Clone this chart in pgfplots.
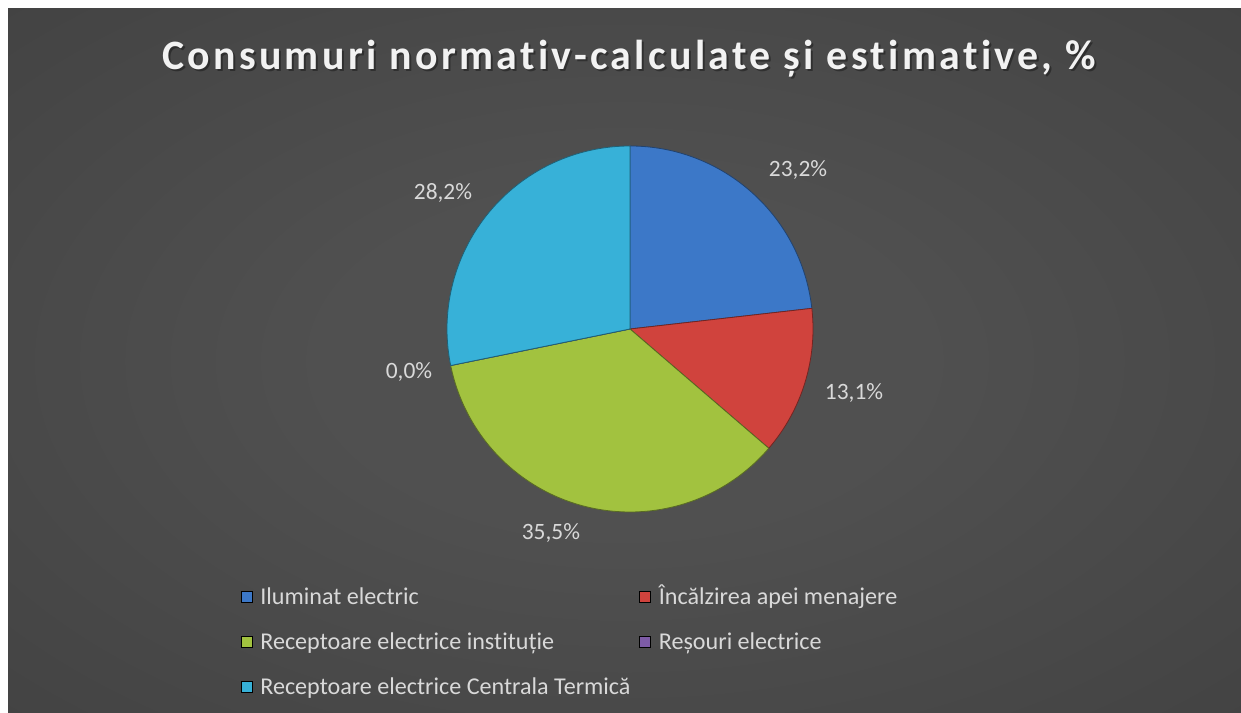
\documentclass[border=0pt]{standalone}
\usepackage{pgfplots}
\pgfplotsset{compat=1.18}
\usepackage{pgfplotstable}
\usepackage{fontspec}
\setmainfont{Carlito}[Ligatures=NoCommon]
\newfontfamily\titlefont{Carlito}[LetterSpace=8,Ligatures=NoCommon]
\definecolor{pie0}{HTML}{3C78C8}
\definecolor{pie1}{HTML}{D0433D}
\definecolor{pie2}{HTML}{A2C23F}
\definecolor{pie3}{HTML}{7D5BA6}
\definecolor{pie4}{HTML}{37B1D8}
\definecolor{bgin}{HTML}{505050}
\definecolor{bgmid}{HTML}{3E3E3E}
\definecolor{bgout}{HTML}{262626}
\definecolor{labelgray}{HTML}{D9D9D9}
\pgfdeclareradialshading{bgshade}{\pgfpoint{0bp}{0bp}}{color(0bp)=(bgin); color(12bp)=(bgin); color(45bp)=(bgmid); color(71bp)=(bgout)}
\newcommand\labelfont{\fontsize{23.5}{28}\selectfont}
\newcommand\legendfont{\fontsize{24.2}{29}\selectfont}

% value, label x, label y (axis units, pie radius = 1)
\pgfplotstableread{
value  lx      ly
23.2   0.918   0.831
13.1   1.224  -0.388
35.5  -0.432  -1.153
0.0   -1.208  -0.268
28.2  -1.022   0.705
}\piedata

\begin{document}
\begin{tikzpicture}[x=1bp,y=1bp]
\fill[white] (0,0) rectangle (1241,713);
\shade[shading=bgshade] (8,0) rectangle (1241,704);
% title
\node[anchor=base, text=black, opacity=0.35, font=\titlefont\bfseries\fontsize{42}{48}\selectfont] at (631,641) {Consumuri normativ-calculate și estimative, \%};
\node[anchor=base, text=white!95!black, font=\titlefont\bfseries\fontsize{42}{48}\selectfont] at (629,643) {Consumuri normativ-calculate și estimative, \%};
\begin{axis}[
  at={(630bp,384bp)}, anchor=center,
  x=183bp, y=183bp,
  xmin=-1, xmax=1, ymin=-1, ymax=1,
  hide axis, clip=false,
  legend image code/.code={\fill[#1] (0bp,2bp) rectangle (11bp,13bp);},
  legend style={draw=none, fill=none, inner sep=0pt, outer sep=0pt,
    text=labelgray, font=\legendfont,
    at={(axis cs:-2.126,-1.412)}, anchor=north west,
    cells={anchor=base west},
    nodes={inner sep=0pt, text height=17bp, text depth=6bp},
    row sep=22bp,
    /tikz/every odd column/.append style={column sep=8bp},
    /tikz/every even column/.append style={column sep=9bp}},
  legend columns=2,
]
\def\startang{90}
\pgfplotsforeachungrouped \i in {0,...,4}{%
  \pgfplotstablegetelem{\i}{value}\of\piedata \let\v\pgfplotsretval
  \pgfplotstablegetelem{\i}{lx}\of\piedata \let\lx\pgfplotsretval
  \pgfplotstablegetelem{\i}{ly}\of\piedata \let\ly\pgfplotsretval
  \pgfmathsetmacro\endang{\startang-3.6*\v}
  \edef\temp{%
    \noexpand\fill[fill=pie\i, draw=pie\i!55!black, line width=0.8bp, line join=round]
      (axis cs:0,0) -- ++(\startang:183bp) arc[start angle=\startang, end angle=\endang, radius=183bp] -- cycle;
    \noexpand\node[anchor=base, text=labelgray, font=\noexpand\labelfont] at (axis cs:\lx,\ly)
      {\noexpand\pgfmathprintnumber[fixed,fixed zerofill,precision=1,use comma,assume math mode=true]{\v}\noexpand\%};
  }%
  \temp
  \global\let\startang\endang
}
\addlegendimage{fill=pie0}\addlegendentry{Iluminat electric}
\addlegendimage{fill=pie1}\addlegendentry{Încălzirea apei menajere}
\addlegendimage{fill=pie2}\addlegendentry{Receptoare electrice instituție}
\addlegendimage{fill=pie3}\addlegendentry{Reșouri electrice}
\addlegendimage{fill=pie4}\addlegendentry{Receptoare electrice Centrala Termică}
\end{axis}
\pgfresetboundingbox
\path[use as bounding box] (0,0) rectangle (1241,713);
\end{tikzpicture}
\end{document}
